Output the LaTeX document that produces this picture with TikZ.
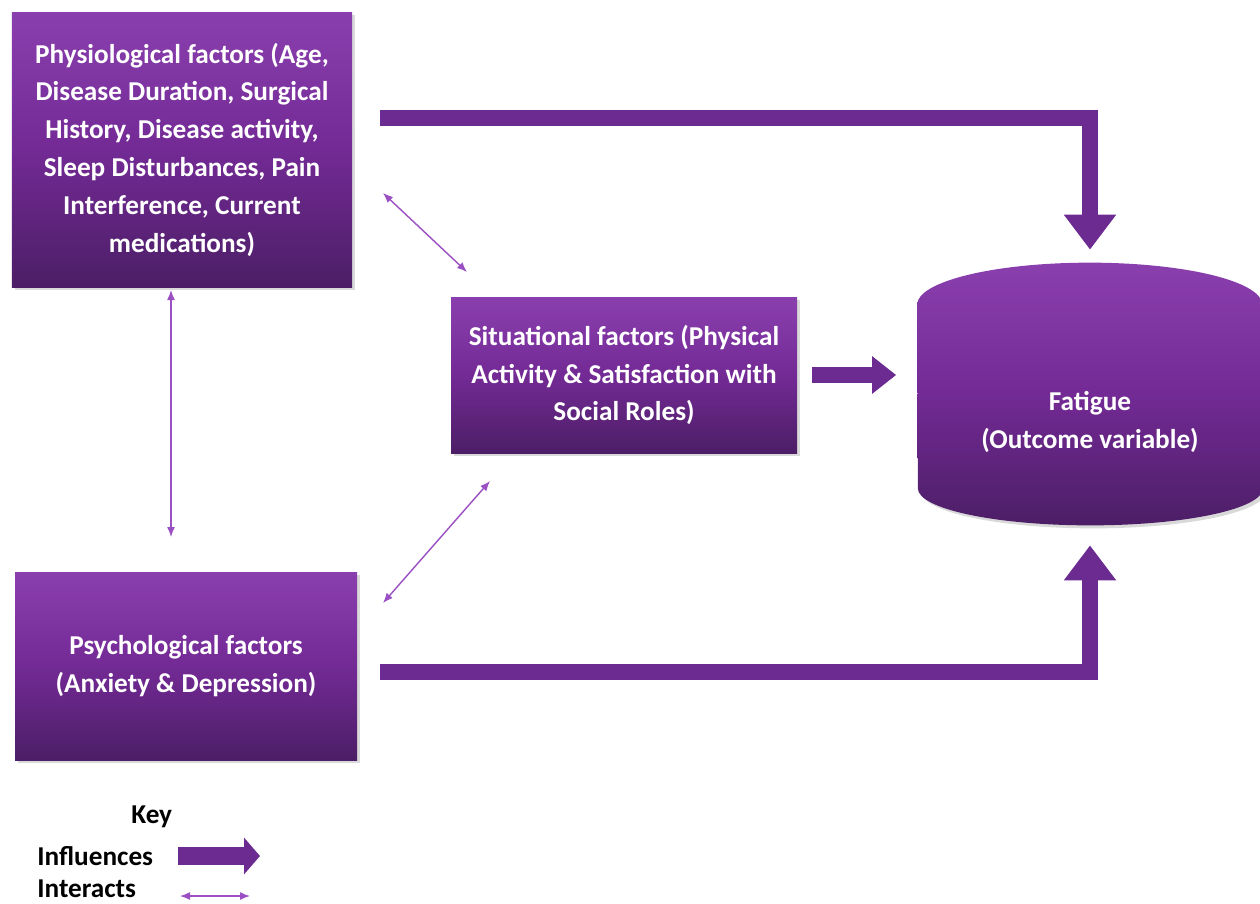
\documentclass[tikz,border=0pt]{standalone}
\usepackage{fontspec}
\setmainfont{Carlito}
\usetikzlibrary{arrows.meta,calc,shadows,backgrounds}

\definecolor{plumtop}{HTML}{8A3FAE}
\definecolor{plummid}{HTML}{732A95}
\definecolor{plumbot}{HTML}{4C1E66}
\definecolor{plumline}{HTML}{9A4FC2}
\definecolor{plumarrow}{HTML}{6C2B90}

\tikzset{
    plumfill/.style={top color=plumtop, bottom color=plumbot, middle color=plummid,
        drop shadow={opacity=0.3, shadow xshift=0.06cm, shadow yshift=-0.06cm}},
    factortext/.style={text=white, align=center, font=\fontsize{15.5}{21.5}\selectfont\bfseries},
    factorbox/.style={rectangle, plumfill, factortext},
    influence/.style={line width=0.32cm, plumarrow, line join=miter, -{Triangle[width=1cm,length=0.7cm]}},
    interact/.style={line width=0.8pt, plumline, {Latex[length=2mm,width=1.6mm]}-{Latex[length=2mm,width=1.6mm]}},
    keytext/.style={anchor=west, inner sep=0pt, font=\fontsize{15.5}{21.5}\selectfont\bfseries}
}

\begin{document}
\begin{tikzpicture}
    \useasboundingbox (0, 0) rectangle (25.2, -18.06);

    \node[factorbox, minimum width=6.8cm, minimum height=5.5cm] (phys) at (3.64, -2.99)
        {Physiological factors (Age,\\Disease Duration, Surgical\\History, Disease activity,\\Sleep Disturbances, Pain\\Interference, Current\\medications)};
    \node[factorbox, minimum width=6.92cm, minimum height=3.12cm] (situ) at (12.48, -7.5)
        {Situational factors (Physical\\Activity \& Satisfaction with\\Social Roles)};
    \node[factorbox, minimum width=6.84cm, minimum height=3.76cm] (psych) at (3.72, -13.32)
        {Psychological factors\\(Anxiety \& Depression)};
    \node[minimum width=6.9cm, minimum height=5.24cm,
          label={[factortext, yshift=-0.56cm]center:{Fatigue\\(Outcome variable)}}] (fat) at (21.8, -7.88) {};

    % outcome drum
    \begin{pgfonlayer}{background}
        \path[plumfill] ([yshift=-0.84cm]fat.north west)
            arc[start angle=180, end angle=0, x radius=3.45cm, y radius=0.84cm]
            -- ([yshift=0.74cm]fat.south east)
            arc[start angle=0, end angle=-180, x radius=3.45cm, y radius=0.74cm] -- cycle;
    \end{pgfonlayer}

    % influences
    \coordinate (topstart) at (7.6, -2.36);
    \coordinate (botstart) at (7.6, -13.44);
    \draw[influence] (topstart) -| ([yshift=0.26cm]fat.north);
    \draw[influence] (botstart) -| ([yshift=-0.4cm]fat.south);
    \draw[influence, line width=0.32cm, -{Triangle[width=0.72cm,length=0.48cm]}]
        ([xshift=0.3cm]situ.east) -- ([xshift=-0.42cm]fat.west |- situ.east);

    % interactions
    \coordinate (ps1) at (7.66, -3.86);
    \coordinate (ps2) at (9.34, -5.44);
    \coordinate (pp1) at (3.42, -5.8);
    \coordinate (pp2) at (3.42, -10.74);
    \coordinate (sp1) at (9.8, -9.62);
    \coordinate (sp2) at (7.66, -12.06);
    \draw[interact] (ps1) -- (ps2);
    \draw[interact] (pp1) -- (pp2);
    \draw[interact] (sp1) -- (sp2);

    % key
    \node[keytext] (key) at (2.62, -16.34) {Key};
    \node[keytext] (inflkey) at (0.74, -17.12) {Influences};
    \node[keytext] (intkey) at (0.74, -17.78) {Interacts};
    \draw[influence, line width=0.36cm, -{Triangle[width=0.72cm,length=0.32cm]}]
        (3.56, -17.12) -- (5.2, -17.12);
    \draw[interact] (3.6, -17.92) -- (5.0, -17.92);
\end{tikzpicture}
\end{document}
